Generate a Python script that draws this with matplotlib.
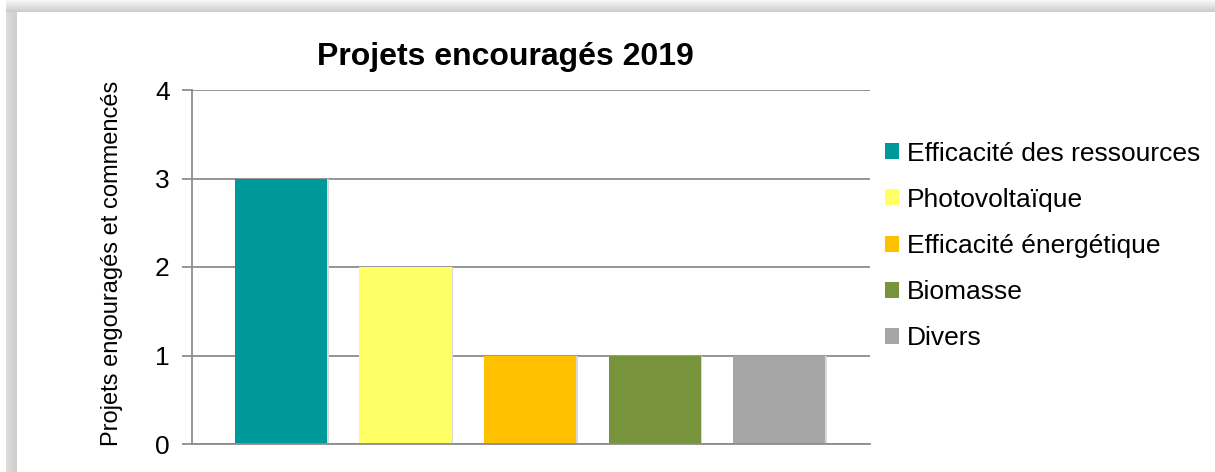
import matplotlib.pyplot as plt
from matplotlib.patches import Rectangle
import numpy as np

# données
categories = ['Efficacité des ressources', 'Photovoltaïque', 'Efficacité énergétique', 'Biomasse', 'Divers']
valeurs = [3, 2, 1, 1, 1]
couleurs = ['#009999', '#FFFF66', '#FFC000', '#77933C', '#A6A6A6']
titre = 'Projets encouragés 2019'
label_y = 'Projets engouragés et commencés'
yticks = [0, 1, 2, 3, 4]

plt.rcParams['font.family'] = ['Liberation Sans', 'DejaVu Sans']

W, H = 1215, 472
fig = plt.figure(figsize=(W / 100, H / 100), dpi=100)
fig.patch.set_facecolor('white')

# ombre du cadre (gauche et haut)
bg = fig.add_axes([0, 0, 1, 1], zorder=-10)
bg.set_xlim(0, W)
bg.set_ylim(H, 0)
bg.axis('off')
for i in range(12):
    g = 0.97 - 0.17 * (i / 11)
    bg.add_patch(Rectangle((6, i), W, 1, color=(g, g, g), lw=0))
for i in range(11):
    g = 0.86 - 0.05 * (i / 10)
    bg.add_patch(Rectangle((6 + i, 12), 1, H, color=(g, g, g), lw=0))
bg.add_patch(Rectangle((17, 12), W, H, color='white', lw=0))

# zone du graphique
ax = fig.add_axes([192 / W, 1 - 444 / H, (870 - 192) / W, (444 - 90) / H])
x = np.arange(len(categories))
for i in range(len(categories)):
    # petite ombre derrière les barres
    ax.bar(x[i] + 0.012, valeurs[i], width=0.74, color='#d8d8d8', zorder=2)
    ax.bar(x[i], valeurs[i], width=0.74, color=couleurs[i], label=categories[i], zorder=3)

ax.set_xlim(-0.715, 4.73)
ax.set_ylim(0, 4)
ax.set_yticks(yticks)
ax.set_xticks([])
ax.grid(axis='y', color='#8c8c8c', lw=1.3, zorder=1)
for s in ['top', 'right']:
    ax.spines[s].set_visible(False)
ax.spines['left'].set_color('#8c8c8c')
ax.spines['left'].set_linewidth(1.3)
ax.spines['bottom'].set_color('#8c8c8c')
ax.spines['bottom'].set_linewidth(1.3)
ax.spines['bottom'].set_zorder(4)
ax.tick_params(axis='y', length=7, width=1.3, color='#8c8c8c', labelsize=19, pad=9)
ax.set_ylabel(label_y, fontsize=17)
ax.yaxis.set_label_coords(-0.102, 0.51)
ax.set_title(titre, fontsize=23, fontweight='bold', pad=18, x=(505 - 192) / (870 - 192))

ax.legend(loc='upper left', bbox_to_anchor=(874 / W, 1 - 131 / H), bbox_transform=fig.transFigure,
          frameon=False, fontsize=19, handlelength=0.55, handleheight=0.55, handletextpad=0.3,
          labelspacing=0.84, borderaxespad=0)

fig.savefig('out.png', dpi=100)
